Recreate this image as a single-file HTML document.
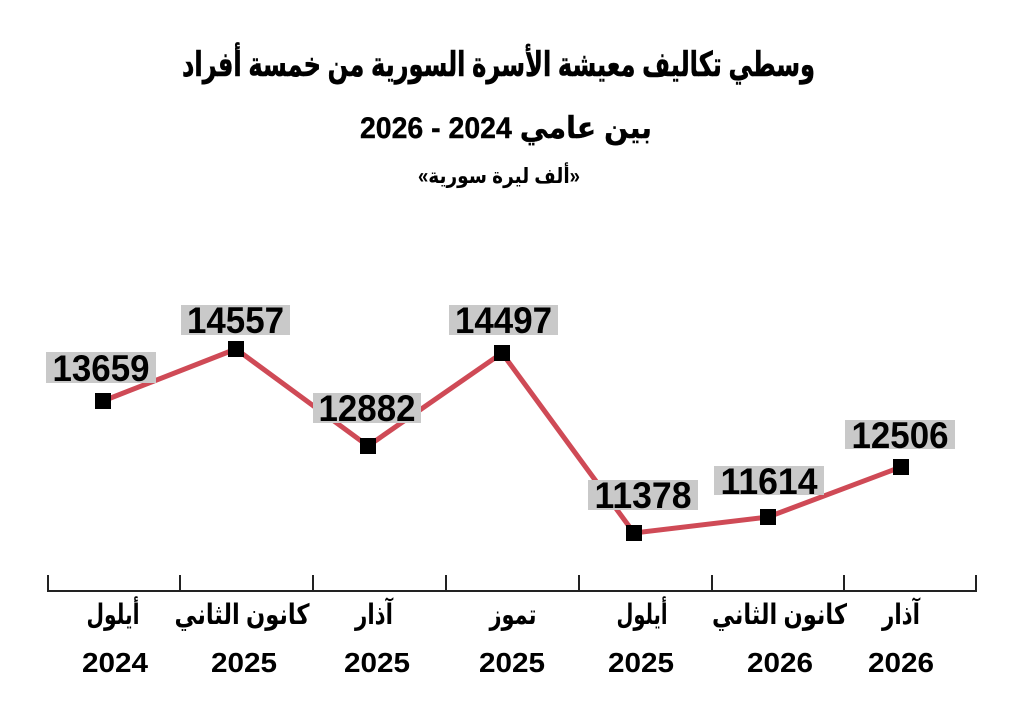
<!DOCTYPE html>
<html>
<head>
<meta charset="utf-8">
<style>
html,body{margin:0;padding:0;background:#fff;}
svg{display:block;}
.ar{font-family:"Liberation Sans","DejaVu Sans",sans-serif;font-weight:bold;fill:#000;}
.num{font-family:"Liberation Sans",sans-serif;font-weight:bold;fill:#000;}
</style>
</head>
<body>
<svg width="1024" height="724" viewBox="0 0 1024 724" xmlns="http://www.w3.org/2000/svg">
<rect width="1024" height="724" fill="#fff"/>

<!-- Titles -->
<text class="ar" x="498.5" y="76" font-size="34" text-anchor="middle" direction="rtl" textLength="633" lengthAdjust="spacingAndGlyphs" stroke="#000" stroke-width="0.6">وسطي تكاليف معيشة الأسرة السورية من خمسة أفراد</text>
<text class="ar" x="506" y="138" font-size="30" text-anchor="middle" direction="rtl" textLength="292" lengthAdjust="spacingAndGlyphs" stroke="#000" stroke-width="0.4">بين عامي 2024 - 2026</text>
<text class="ar" x="499" y="183" font-size="21" text-anchor="middle" direction="rtl" textLength="162" lengthAdjust="spacingAndGlyphs">«ألف ليرة سورية»</text>

<!-- Line -->
<polyline points="103,401 236,349 368,446 502,353 634,533 768,517 901,467" fill="none" stroke="#cf4a56" stroke-width="5" stroke-linejoin="round"/>

<!-- Label boxes -->
<g fill="#c9c9c9">
<rect x="46" y="352" width="110" height="31"/>
<rect x="181" y="305" width="109" height="30"/>
<rect x="313" y="393" width="108" height="30"/>
<rect x="449" y="305" width="109" height="30"/>
<rect x="588" y="480" width="110" height="30"/>
<rect x="714" y="466" width="110" height="29"/>
<rect x="845" y="420" width="110" height="29"/>
</g>
<g class="num" font-size="37" text-anchor="middle">
<text x="101" y="381" textLength="97" lengthAdjust="spacingAndGlyphs">13659</text>
<text x="235.5" y="333" textLength="97" lengthAdjust="spacingAndGlyphs">14557</text>
<text x="367" y="421" textLength="97" lengthAdjust="spacingAndGlyphs">12882</text>
<text x="503.5" y="333" textLength="97" lengthAdjust="spacingAndGlyphs">14497</text>
<text x="643" y="508" textLength="97" lengthAdjust="spacingAndGlyphs">11378</text>
<text x="769" y="494" textLength="97" lengthAdjust="spacingAndGlyphs">11614</text>
<text x="900" y="448" textLength="97" lengthAdjust="spacingAndGlyphs">12506</text>
</g>

<!-- Markers -->
<g fill="#000">
<rect x="95" y="393" width="16" height="16"/>
<rect x="228" y="341" width="16" height="16"/>
<rect x="360" y="438" width="16" height="16"/>
<rect x="494" y="345" width="16" height="16"/>
<rect x="626" y="525" width="16" height="16"/>
<rect x="760" y="509" width="16" height="16"/>
<rect x="893" y="459" width="16" height="16"/>
</g>

<!-- Axis -->
<g stroke="#222" stroke-width="2" fill="none">
<line x1="47" y1="591" x2="977" y2="591"/>
<line x1="48" y1="575" x2="48" y2="592"/>
<line x1="180" y1="575" x2="180" y2="592"/>
<line x1="313" y1="575" x2="313" y2="592"/>
<line x1="446" y1="575" x2="446" y2="592"/>
<line x1="579" y1="575" x2="579" y2="592"/>
<line x1="712" y1="575" x2="712" y2="592"/>
<line x1="844" y1="575" x2="844" y2="592"/>
<line x1="976" y1="575" x2="976" y2="592"/>
</g>

<!-- Month labels -->
<g class="ar" font-size="28" text-anchor="middle">
<text x="113" y="624" direction="rtl" textLength="53" lengthAdjust="spacingAndGlyphs">أيلول</text>
<text x="242" y="624" direction="rtl" textLength="135" lengthAdjust="spacingAndGlyphs">كانون الثاني</text>
<text x="374" y="624" direction="rtl" textLength="38" lengthAdjust="spacingAndGlyphs">آذار</text>
<text x="513" y="624" direction="rtl" textLength="47" lengthAdjust="spacingAndGlyphs">تموز</text>
<text x="642" y="624" direction="rtl" textLength="51" lengthAdjust="spacingAndGlyphs">أيلول</text>
<text x="779.5" y="624" direction="rtl" textLength="135" lengthAdjust="spacingAndGlyphs">كانون الثاني</text>
<text x="901" y="624" direction="rtl" textLength="38" lengthAdjust="spacingAndGlyphs">آذار</text>
</g>

<!-- Year labels -->
<g class="num" font-size="28" text-anchor="middle">
<text x="115" y="672" textLength="66" lengthAdjust="spacingAndGlyphs">2024</text>
<text x="244" y="672" textLength="66" lengthAdjust="spacingAndGlyphs">2025</text>
<text x="377" y="672" textLength="66" lengthAdjust="spacingAndGlyphs">2025</text>
<text x="512" y="672" textLength="66" lengthAdjust="spacingAndGlyphs">2025</text>
<text x="641" y="672" textLength="66" lengthAdjust="spacingAndGlyphs">2025</text>
<text x="780" y="672" textLength="66" lengthAdjust="spacingAndGlyphs">2026</text>
<text x="901" y="672" textLength="66" lengthAdjust="spacingAndGlyphs">2026</text>
</g>
</svg>
</body>
</html>
